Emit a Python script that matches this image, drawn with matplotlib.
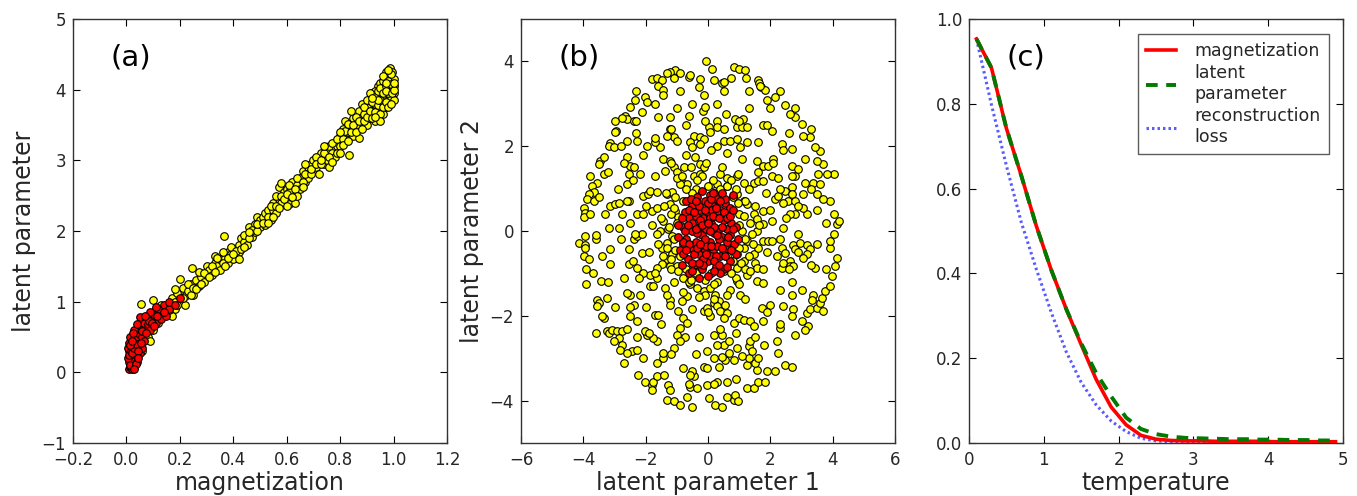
import numpy as np
import matplotlib
matplotlib.use("Agg")
import matplotlib.pyplot as plt

plt.rcParams['font.family'] = ['DejaVu Sans']

# ---------------- panel (a) data: (magnetization, latent parameter) ----------------
a_yellow_pts = [
    (0.03, 0.55), (0.05, 0.65), (0.06, 0.30), (0.07, 0.75), (0.08, 0.50), (0.09, 0.45), (0.055, 0.97),
    (0.10, 1.02), (0.10, 0.60), (0.12, 0.70), (0.13, 0.85), (0.11, 0.90), (0.02, 0.40), (0.04, 0.20),
    (0.15, 0.85), (0.16, 0.95), (0.17, 1.05), (0.18, 0.90), (0.19, 1.12), (0.20, 1.00), (0.21, 1.20),
    (0.22, 1.08), (0.23, 1.15), (0.24, 1.25), (0.245, 1.48), (0.25, 1.10), (0.26, 1.30), (0.27, 1.22),
    (0.28, 1.35), (0.29, 1.28), (0.30, 1.40), (0.30, 1.50), (0.20, 1.32), (0.22, 0.95), (0.17, 0.80),
    (0.27, 1.42), (0.31, 1.45), (0.32, 1.38), (0.33, 1.55), (0.34, 1.50), (0.35, 1.60), (0.35, 1.45),
    (0.364, 1.93), (0.37, 1.62), (0.38, 1.70), (0.38, 1.55), (0.39, 1.68), (0.40, 1.75), (0.41, 1.62),
    (0.42, 1.80), (0.42, 1.70), (0.43, 1.90), (0.44, 1.85), (0.45, 1.95), (0.45, 1.80), (0.46, 2.05),
    (0.47, 1.92), (0.48, 2.10), (0.48, 1.98), (0.49, 2.20), (0.50, 2.05), (0.50, 2.15), (0.33, 1.65),
    (0.36, 1.70), (0.40, 1.60), (0.51, 2.20), (0.52, 2.08), (0.52, 2.25), (0.53, 2.30), (0.54, 2.15),
    (0.55, 2.30), (0.55, 2.40), (0.56, 2.25), (0.57, 2.45), (0.57, 2.62), (0.58, 2.40), (0.59, 2.55),
    (0.60, 2.45), (0.60, 2.60), (0.61, 2.38), (0.62, 2.55), (0.62, 2.70), (0.63, 2.50), (0.64, 2.65),
    (0.65, 2.75), (0.65, 2.60), (0.66, 2.85), (0.67, 2.70), (0.68, 2.90), (0.68, 2.75), (0.69, 2.95),
    (0.70, 2.85), (0.70, 3.00), (0.58, 2.68), (0.63, 2.40), (0.71, 2.90), (0.72, 3.05), (0.72, 2.80),
    (0.73, 3.10), (0.74, 2.95), (0.75, 3.15), (0.75, 3.00), (0.76, 3.20), (0.77, 3.10), (0.78, 3.25),
    (0.78, 3.05), (0.79, 3.20), (0.80, 3.35), (0.80, 3.20), (0.81, 3.45), (0.82, 3.30), (0.82, 3.55),
    (0.83, 3.40), (0.834, 3.07), (0.84, 3.50), (0.85, 3.60), (0.85, 3.35), (0.86, 3.50), (0.87, 3.32),
    (0.87, 3.70), (0.88, 3.55), (0.88, 3.80), (0.89, 3.65), (0.90, 3.75), (0.90, 3.50), (0.76, 2.90),
    (0.84, 3.70), (0.91, 3.85), (0.91, 3.60), (0.92, 3.70), (0.92, 3.95), (0.93, 3.80), (0.93, 3.55),
    (0.94, 3.90), (0.94, 4.05), (0.95, 3.75), (0.95, 3.95), (0.95, 4.10), (0.96, 3.85), (0.96, 4.00),
    (0.96, 3.65), (0.97, 4.15), (0.97, 3.90), (0.97, 3.75), (0.98, 4.05), (0.98, 4.20), (0.98, 3.85),
    (0.985, 4.30), (0.99, 4.00), (0.99, 4.15), (0.99, 3.90), (0.995, 4.25), (1.00, 4.05), (1.00, 3.95),
    (1.00, 4.15), (0.94, 3.65), (0.96, 4.12), (0.93, 3.98), (0.98, 3.95), (0.97, 4.25), (0.99, 4.22),
    (1.00, 3.85),
    (0.16, 0.88), (0.18, 1.00), (0.19, 0.95), (0.21, 1.05), (0.23, 1.25), (0.24, 1.10), (0.25, 1.20),
    (0.26, 1.18), (0.28, 1.25), (0.29, 1.40), (0.31, 1.35), (0.32, 1.50), (0.33, 1.42), (0.34, 1.62),
    (0.14, 0.88), (0.13, 0.95), (0.18, 1.18), (0.36, 1.55), (0.37, 1.50), (0.39, 1.78), (0.41, 1.72),
    (0.42, 1.60), (0.43, 1.75), (0.44, 1.95), (0.46, 1.90), (0.47, 2.02), (0.49, 2.00), (0.49, 2.10),
    (0.38, 1.62), (0.40, 1.68), (0.44, 1.78), (0.46, 1.98), (0.51, 2.12), (0.53, 2.20), (0.54, 2.35),
    (0.56, 2.35), (0.56, 2.50), (0.58, 2.50), (0.59, 2.45), (0.60, 2.35), (0.61, 2.55), (0.61, 2.65),
    (0.63, 2.60), (0.64, 2.50), (0.64, 2.75), (0.66, 2.70), (0.67, 2.80), (0.67, 2.95), (0.69, 2.80),
    (0.69, 2.88), (0.53, 2.12), (0.55, 2.20), (0.57, 2.32), (0.60, 2.52), (0.62, 2.48), (0.66, 2.62),
    (0.71, 3.05), (0.71, 2.95), (0.73, 2.95), (0.73, 3.00), (0.74, 3.10), (0.74, 3.20), (0.76, 3.05),
    (0.77, 3.25), (0.77, 2.98), (0.79, 3.10), (0.79, 3.30), (0.80, 3.10), (0.81, 3.30), (0.81, 3.22),
    (0.82, 3.42), (0.83, 3.52), (0.83, 3.28), (0.84, 3.40), (0.85, 3.50), (0.86, 3.62), (0.86, 3.40),
    (0.87, 3.55), (0.88, 3.45), (0.89, 3.75), (0.89, 3.55), (0.90, 3.62), (0.90, 3.85), (0.80, 3.40),
    (0.91, 3.70), (0.91, 3.95), (0.92, 3.60), (0.92, 3.82), (0.93, 3.68), (0.93, 3.90), (0.94, 3.78),
    (0.94, 3.98), (0.95, 3.85), (0.95, 4.02), (0.95, 3.65), (0.96, 3.75), (0.96, 3.95), (0.96, 4.20),
    (0.97, 3.82), (0.97, 4.05), (0.97, 3.98), (0.98, 3.75), (0.98, 4.12), (0.98, 4.28), (0.99, 3.80),
    (0.99, 4.08), (0.995, 3.95), (1.00, 4.00), (1.00, 4.10), (0.94, 3.85), (0.95, 3.55), (0.93, 3.62),
    (0.92, 3.88), (0.97, 4.10),
]
a_red_pts = [
    (0.010, 0.05), (0.015, 0.08), (0.020, 0.10), (0.010, 0.15), (0.020, 0.20), (0.015, 0.25),
    (0.025, 0.12), (0.030, 0.18), (0.005, 0.20), (0.010, 0.30), (0.020, 0.35), (0.030, 0.30),
    (0.025, 0.40), (0.005, 0.35), (0.010, 0.42), (0.035, 0.25), (0.040, 0.35), (0.030, 0.45),
    (0.040, 0.50), (0.020, 0.05), (0.030, 0.08), (0.040, 0.15), (0.015, 0.50), (0.050, 0.40),
    (0.045, 0.55), (0.050, 0.28), (0.055, 0.60), (0.060, 0.50), (0.065, 0.45), (0.070, 0.62),
    (0.065, 0.70), (0.050, 0.78), (0.080, 0.68), (0.090, 0.60), (0.100, 0.75), (0.100, 0.82),
    (0.110, 0.70), (0.120, 0.80), (0.130, 0.75), (0.140, 0.95), (0.150, 0.80), (0.120, 0.90),
    (0.090, 0.85), (0.030, 0.60), (0.040, 0.68), (0.060, 0.35), (0.025, 0.55), (0.200, 1.05),
    (0.160, 0.90),
    (0.012, 0.10), (0.008, 0.25), (0.018, 0.30), (0.022, 0.27), (0.028, 0.35), (0.035, 0.40),
    (0.012, 0.38), (0.020, 0.45), (0.035, 0.12), (0.045, 0.30), (0.055, 0.42), (0.060, 0.58),
    (0.075, 0.55), (0.085, 0.72), (0.095, 0.70), (0.105, 0.65), (0.115, 0.80), (0.070, 0.80),
    (0.045, 0.20), (0.028, 0.05), (0.140, 0.85), (0.160, 1.00), (0.180, 0.95), (0.110, 0.92),
]

# ---------------- panel (b) data: (latent parameter 1, latent parameter 2) ----------------
b_yellow_pts = [
    (-0.08, 4.00), (0.12, 3.83), (0.85, 3.87), (1.01, 3.81), (0.74, 3.60), (1.23, 3.61), (1.59, 3.57),
    (1.63, 3.49), (1.70, 3.39), (1.83, 3.33), (0.46, 3.50), (0.52, 3.52), (0.18, 3.55), (-0.27, 3.59),
    (-0.62, 3.63), (-0.57, 3.67), (-1.06, 3.79), (-1.21, 3.75), (-1.32, 3.72), (-0.89, 3.72),
    (-1.80, 3.59), (-1.64, 3.61), (-1.48, 3.55), (-1.59, 3.43), (-1.45, 3.33), (-1.43, 3.20),
    (-2.01, 3.16), (-1.96, 3.04), (-2.33, 3.09), (-2.49, 2.93), (-2.65, 2.72), (-2.60, 2.64),
    (-2.76, 2.67), (-2.39, 2.60), (-2.12, 2.80), (-2.94, 2.37), (-2.97, 2.33), (-3.16, 2.07),
    (-3.19, 2.01), (-3.03, 1.99), (-3.46, 1.66), (-3.51, 1.58), (-3.35, 1.74), (-3.33, 1.34),
    (-3.56, 1.14), (-3.72, 1.07), (-3.67, 0.91), (-3.83, 0.87), (-3.88, 0.75), (-3.67, 0.71),
    (-3.99, 0.55), (-3.94, 0.43), (-3.99, 0.32), (-3.78, 0.39), (-4.15, -0.28), (-3.94, -0.12),
    (-3.94, -0.32), (-3.99, -0.59), (-3.83, -0.67), (-3.94, -0.39), (-3.59, -0.20), (-3.93, -1.26),
    (-3.43, -1.17), (-3.56, -1.62), (-3.51, -1.70), (-3.56, -1.78), (-3.35, -2.05), (-3.24, -1.58),
    (-3.24, -2.37), (-3.19, -2.41), (-3.08, -2.33), (-2.92, -2.37), (-2.76, -2.37), (-2.87, -2.52),
    (-3.01, -2.60), (-2.76, -2.68), (-2.82, -2.80), (-2.71, -3.12), (-2.44, -2.84), (-2.60, -2.88),
    (-2.28, -2.80), (-2.23, -3.39), (-2.01, -3.55), (-1.80, -3.63), (-1.80, -3.75), (-1.75, -3.55),
    (-1.64, -3.43), (-1.64, -3.12), (-1.27, -3.63), (-1.21, -3.75), (-1.32, -3.98), (-1.08, -4.02),
    (-0.89, -4.10), (-0.50, -4.16), (-0.68, -3.91), (-0.57, -3.67), (-0.36, -3.71), (-0.04, -3.63),
    (0.02, -3.93), (0.23, -4.10), (0.44, -4.16), (0.60, -3.91), (0.82, -3.98), (0.87, -3.87),
    (0.96, -4.02), (0.28, -3.55), (0.60, -3.55), (0.34, -3.20), (0.55, -3.04), (0.44, -2.96),
    (1.24, -3.71), (1.46, -3.71), (1.62, -3.55), (1.83, -3.55), (1.57, -3.27), (1.89, -3.31),
    (2.15, -3.30), (2.47, -3.16), (2.69, -3.20), (2.26, -2.88), (1.51, -3.12), (1.24, -3.16),
    (1.30, -3.00), (2.79, -2.45), (3.01, -2.13), (3.17, -1.93), (3.27, -1.85), (3.49, -1.81),
    (3.60, -1.70), (3.65, -1.58), (3.76, -1.42), (3.92, -1.30), (3.38, -1.50), (3.33, -1.62),
    (3.70, -1.89), (3.22, -2.25), (3.11, -2.33), (2.42, -1.78), (2.74, -1.85), (2.31, -2.29),
    (2.69, -1.50), (3.97, -1.07), (4.08, -0.83), (4.14, -0.63), (3.92, -0.39), (4.03, -0.08),
    (4.14, 0.16), (4.19, 0.24), (3.92, -0.24), (4.03, 0.39), (3.92, 0.71), (3.70, 0.75),
    (3.49, 0.87), (4.03, 1.34), (3.81, 1.34), (3.70, 1.58), (3.49, 1.66), (3.60, 1.89), (3.43, 1.97),
    (3.27, 2.21), (3.06, 2.25), (3.01, 2.52), (2.79, 2.68), (2.63, 2.76), (2.47, 2.96), (2.15, 3.16),
    (1.89, 3.08), (1.67, 3.43), (-1.21, 2.68), (-0.62, 2.72), (-0.12, 3.20), (-0.17, 2.84),
    (-0.09, 2.93), (0.28, 2.60), (0.58, 2.76), (0.87, 2.64), (1.12, 2.64), (0.92, 2.45), (1.09, 2.46),
    (1.24, 2.45), (0.02, 2.45), (0.07, 2.33), (0.28, 2.45), (-0.46, 2.25), (-0.25, 2.21), (-0.14, 2.17),
    (-0.57, 2.09), (-0.52, 1.97), (-0.25, 2.05), (-1.21, 2.41), (-1.10, 2.21), (-1.00, 2.13),
    (-1.32, 2.25), (-1.53, 1.97), (-1.69, 2.09), (-1.96, 2.01), (-2.28, 2.13), (-2.60, 2.13),
    (0.28, 2.01), (0.50, 2.13), (0.71, 2.13), (0.92, 2.17), (1.03, 1.97), (1.24, 2.09), (1.78, 2.49),
    (2.05, 2.37), (2.37, 2.05), (2.69, 1.93), (1.57, 1.66), (1.78, 1.54), (1.94, 1.54), (2.10, 1.70),
    (2.69, 1.54), (-2.60, 1.74), (-2.49, 1.54), (-2.39, 1.50), (-2.17, 1.34), (-2.55, 1.34),
    (-2.60, 1.10), (-1.43, 1.70), (-1.21, 1.66), (-1.10, 1.50), (-1.37, 1.42), (-0.99, 1.38),
    (-0.78, 1.50), (-0.84, 1.14), (-0.68, 1.10), (-0.46, 1.30), (-0.25, 1.34), (-0.41, 1.74),
    (-0.25, 1.58), (-0.14, 1.50), (0.12, 1.10), (0.28, 1.10), (0.39, 1.34), (0.60, 1.06), (0.92, 1.30),
    (1.14, 1.14), (1.46, 1.14), (1.62, 1.18), (1.78, 1.18), (2.05, 1.30), (2.26, 1.26), (2.47, 0.95),
    (2.69, 1.03), (2.79, 1.30), (2.90, 1.46), (3.11, 1.14), (3.38, 1.14), (3.54, 1.34), (2.58, 0.71),
    (2.42, 0.67), (3.06, 0.87), (-3.14, 0.59), (-2.97, 0.63), (-2.87, 0.67), (-2.55, 0.71),
    (-2.76, 0.39), (-3.19, 0.08), (-2.87, 0.08), (-3.14, -0.43), (-3.14, -0.79), (-2.39, -0.20),
    (-2.28, -0.12), (-2.12, -0.08), (-2.12, -0.51), (-2.55, -0.43), (-2.33, -0.08), (-2.28, 0.39),
    (-2.07, 0.39), (-1.80, 0.47), (-1.64, 0.55), (-2.07, 0.83), (-1.91, 0.87), (-1.85, 0.95),
    (-1.64, 0.91), (-1.32, 0.87), (-1.16, 0.91), (-1.21, 0.63), (-1.05, 0.47), (-0.95, 0.32),
    (-1.43, 0.24), (-1.53, 0.00), (-1.64, -0.08), (-1.27, 0.04), (-1.16, -0.12), (-1.32, -0.28),
    (-1.48, -0.39), (-1.16, -0.55), (-1.32, -0.67), (-1.48, -0.79), (-1.64, -0.87), (-1.85, -1.03),
    (-1.64, -1.10), (-2.07, -0.99), (-2.28, -0.87), (-2.55, -0.79), (-1.21, -0.83), (-1.00, -0.83),
    (0.92, 0.87), (1.14, 0.71), (1.24, 0.63), (1.46, 0.39), (1.57, 0.28), (1.78, 0.16), (1.57, 0.00),
    (1.40, -0.08), (1.24, -0.24), (1.14, -0.39), (1.46, -0.55), (1.51, -0.75), (1.57, -0.87),
    (1.14, -0.71), (0.92, -0.55), (0.92, -0.87), (1.24, -1.03), (1.78, -0.24), (1.94, -0.24),
    (2.05, -0.24), (2.31, -0.20), (2.37, -0.39), (2.47, -0.51), (2.74, -0.32), (2.79, -0.43),
    (2.63, -0.71), (2.90, -0.08), (2.95, -0.28), (3.17, -0.32), (3.27, -0.43), (3.17, -0.55),
    (3.06, -0.63), (2.37, -0.87), (2.42, -0.75), (2.63, -0.83), (2.74, -0.83), (3.43, -0.87),
    (3.17, 0.39), (3.06, 0.55), (2.79, 0.39), (2.63, 0.39), (2.42, 0.08), (2.69, 0.87), (2.79, 0.71),
    (2.15, 0.75), (2.26, 0.83), (2.05, 0.24), (1.78, 0.47), (-0.79, -1.10), (-0.57, -1.26),
    (-0.36, -1.34), (-0.14, -1.42), (-0.09, -1.50), (0.07, -1.34), (0.23, -1.50), (0.34, -1.66),
    (0.18, -1.70), (0.28, -1.78), (0.39, -1.89), (0.60, -1.93), (0.50, -2.05), (0.82, -2.17),
    (0.98, -2.05), (1.14, -2.09), (1.35, -2.13), (1.46, -2.25), (1.78, -2.13), (1.73, -1.81),
    (1.99, -1.74), (1.57, -1.18), (1.78, -1.22), (0.92, -1.18), (0.71, -1.38), (1.03, -1.50),
    (-0.68, -1.54), (-0.84, -1.66), (-0.95, -1.89), (-0.79, -2.05), (-0.68, -2.17), (-0.89, -2.29),
    (-1.00, -2.45), (-0.73, -2.49), (-1.10, -2.76), (-1.43, -3.00), (-1.43, -2.88), (-1.64, -2.60),
    (-1.75, -2.52), (-1.96, -2.45), (-2.01, -2.37), (-2.28, -2.49), (-2.28, -2.13), (-2.49, -2.01),
    (-2.39, -1.74), (-2.17, -1.50), (-2.49, -1.50), (-2.60, -1.46), (-1.85, -1.30), (-1.75, -1.30),
    (-1.69, -1.97), (-1.59, -1.97), (-1.21, -1.62), (-1.21, -1.74), (-1.37, -1.34), (-0.14, -1.89),
    (-0.04, -1.81), (0.07, -2.01), (0.18, -2.45), (0.44, -2.45), (0.50, -2.68), (0.66, -2.60),
    (0.66, -2.88), (0.92, -2.76), (0.82, -3.04), (1.30, -2.72), (1.35, -2.60), (1.40, -2.84),
    (-0.04, -2.84), (-0.14, -3.20), (-0.04, -3.23), (-0.46, -3.43), (-0.52, -3.31), (-0.79, -3.23),
    (-0.57, -3.39), (0.18, -3.00), (-1.00, 0.20), (-1.10, -0.20), (-0.90, -0.60), (-0.70, -0.90),
    (-0.40, -1.00), (0.10, -1.00), (0.50, -0.95), (0.80, -0.70), (1.00, -0.40), (1.10, 0.00),
    (1.00, 0.40), (0.80, 0.80), (0.40, 1.00), (0.00, 1.05), (-0.40, 1.00), (-0.80, 0.70),
    (-1.20, 0.40), (-1.30, -0.40), (-1.20, -0.90), (-0.60, -1.20), (0.30, -1.20), (0.90, -1.10),
    (1.30, -0.60), (1.35, 0.20), (1.20, 0.70), (0.60, 1.25), (-0.20, 1.30), (-0.90, 1.10),
    (-0.50, 0.90), (0.90, 1.00), (-1.40, 0.60), (0.20, 0.90), (-0.30, -0.80), (0.60, -0.60),
    (-0.80, -0.30), (1.20, -0.90), (-0.10, -1.15), (1.00, 0.15),
    (-1.50, 0.30), (-1.60, -0.30), (-1.45, -0.60), (-1.10, -1.20), (-0.80, -1.45), (-0.30, -1.55),
    (0.20, -1.60), (0.60, -1.50), (1.00, -1.25), (1.35, -0.95), (1.60, -0.40), (1.65, 0.15),
    (1.50, 0.60), (1.30, 1.00), (0.95, 1.35), (0.45, 1.50), (-0.05, 1.60), (-0.55, 1.50),
    (-1.00, 1.25), (-1.35, 0.90), (-1.80, 0.15), (-1.90, -0.50), (-1.70, -1.00), (-1.30, -1.50),
    (-0.50, -1.85), (0.00, -1.90), (0.55, -1.75), (1.20, -1.60), (1.75, -0.90), (1.90, -0.50),
    (2.00, 0.50), (1.85, 0.90), (1.60, 1.40), (1.10, 1.70), (0.60, 1.85), (0.10, 1.90),
    (-0.70, 1.80), (-1.20, 1.60), (-1.70, 1.30), (-2.00, 0.60), (-1.10, 0.55), (-1.05, -0.45),
    (-0.95, -0.95), (-0.55, -1.15), (0.20, -1.25), (0.75, -1.00), (1.05, -0.75), (1.20, -0.20),
    (1.15, 0.35), (0.95, 0.65), (0.60, 1.05), (0.15, 1.20), (-0.35, 1.20), (-0.70, 1.00),
    (-1.05, 0.80), (-1.25, 0.10), (-1.20, -0.65), (-0.85, 1.30), (0.75, 1.20), (1.45, -0.30),
    (-2.50, 0.20), (-2.40, -0.70), (-2.20, -1.10), (-2.00, -1.80), (-1.50, -2.20), (-0.90, -2.60),
    (-0.30, -2.50), (0.30, -2.70), (0.90, -2.40), (1.50, -2.50), (1.90, -1.90), (2.30, -1.40),
    (2.60, -0.90), (2.20, -0.60), (2.50, 0.30), (2.30, 1.00), (2.10, 1.60), (1.60, 2.10),
    (1.00, 2.60), (0.50, 2.40), (-0.10, 2.60), (-0.70, 2.50), (-1.20, 2.40), (-1.70, 2.20),
    (-2.10, 1.80), (-2.40, 1.20), (-2.60, 0.70), (-2.80, -0.20), (-2.70, -1.10), (-2.50, -1.80),
    (-1.90, -2.40), (-1.20, -2.90), (-0.40, -2.90), (0.40, -2.30), (1.10, -2.95), (1.80, -2.70),
    (2.30, -2.20), (2.70, -1.20), (2.90, -0.50), (2.90, 0.60), (2.70, 1.30), (2.40, 1.90),
    (1.90, 2.50), (1.30, 2.90), (0.30, 3.00), (-0.50, 3.00), (-1.00, 2.90), (-1.60, 2.70),
    (-2.30, 2.30), (-2.70, 1.60), (-2.90, 1.00), (-3.30, 0.40), (-3.40, -0.60), (-3.20, -1.20),
    (-3.00, -1.80), (-2.60, -2.30), (-2.10, -3.00), (-1.40, -3.40), (-0.60, -3.60), (0.20, -3.60),
    (0.90, -3.50), (1.60, -3.00), (2.20, -2.60), (2.70, -2.00), (3.00, -1.40), (3.30, -0.80),
    (3.50, -0.30), (3.50, 0.50), (3.30, 1.00), (3.10, 1.70), (2.60, 2.30), (2.00, 2.90),
    (1.30, 3.30), (0.50, 3.30), (-0.30, 3.40), (-0.90, 3.30), (-1.70, 3.00), (-2.30, 2.60),
    (-2.80, 2.00), (-3.20, 1.40), (-3.50, 0.80), (-3.60, -0.10), (-3.70, -1.00), (-3.40, -2.00),
    (3.80, -0.90), (3.80, 0.20), (3.60, 1.10), (3.30, 2.40), (2.80, 2.90), (2.30, 3.30),
    (1.20, 3.80), (-2.30, 3.30), (-1.10, 3.60), (-3.00, 2.60), (-3.80, 1.30), (-3.90, -0.90),
    (-3.60, -2.40),
]
b_red_pts = [
    (-0.90, -0.45), (-0.80, 0.10), (-0.75, 0.45), (-0.70, -0.20), (-0.65, -0.65), (-0.60, 0.30),
    (-0.55, -0.40), (-0.50, 0.60), (-0.50, 0.00), (-0.45, -0.80), (-0.40, 0.35), (-0.40, -0.25),
    (-0.35, 0.80), (-0.30, -0.55), (-0.30, 0.10), (-0.25, 0.50), (-0.20, -0.90), (-0.20, -0.10),
    (-0.15, 0.30), (-0.10, 0.70), (-0.10, -0.45), (-0.05, 0.05), (0.00, -0.70), (0.00, 0.45),
    (0.05, 0.85), (0.05, -0.25), (0.10, 0.20), (0.15, -0.50), (0.15, 0.60), (0.20, -0.05),
    (0.25, -0.85), (0.25, 0.35), (0.30, 0.75), (0.30, -0.35), (0.35, 0.05), (0.40, -0.60),
    (0.40, 0.50), (0.45, -0.15), (0.50, 0.25), (0.50, -0.90), (0.55, 0.65), (0.60, -0.40),
    (0.60, 0.05), (0.65, 0.40), (0.70, -0.70), (0.70, -0.10), (0.75, 0.20), (0.80, 0.85),
    (0.85, -0.30), (0.90, 0.10), (-0.60, -1.00), (-0.30, -1.10), (0.00, -1.05), (0.40, -1.00),
    (-0.85, -0.80), (0.90, -0.55), (-0.95, 0.15), (-0.20, 0.95), (0.55, 0.75), (-0.70, 0.70),
    (-0.05, -0.35), (0.12, 0.50), (-0.35, -0.05), (0.35, -0.20), (-0.15, -0.65), (0.20, 0.10),
    (-0.50, 0.20), (0.60, -0.25), (-0.25, 0.25), (0.05, 0.30), (0.45, 0.10), (-0.10, -0.20),
    (0.30, 0.45), (-0.45, -0.55), (0.10, -0.60), (-0.60, 0.50), (0.70, 0.55), (-0.80, -0.25),
    (0.25, -0.60), (0.00, 0.65),
    (-0.85, 0.30), (-0.80, -0.55), (-0.75, 0.00), (-0.65, 0.15), (-0.60, -0.30), (-0.55, 0.75),
    (-0.50, -0.75), (-0.45, 0.45), (-0.40, 0.05), (-0.35, -0.40), (-0.30, 0.60), (-0.25, -0.30),
    (-0.20, 0.15), (-0.15, -0.80), (-0.10, 0.50), (-0.05, -0.55), (0.00, 0.20), (0.05, 0.00),
    (0.10, -0.35), (0.10, 0.75), (0.15, 0.35), (0.20, -0.70), (0.25, 0.55), (0.30, -0.10),
    (0.35, 0.30), (0.35, -0.80), (0.40, 0.70), (0.45, -0.40), (0.50, 0.45), (0.55, -0.60),
    (0.60, 0.30), (0.65, -0.15), (0.70, 0.35), (0.75, -0.45), (0.80, 0.05), (0.80, 0.50),
    (-0.70, -0.45), (-0.30, -0.75), (0.15, 0.90), (-0.40, 0.70), (0.60, -0.85), (-0.95, -0.15),
    (0.95, -0.20), (0.20, -0.95), (-0.50, -0.95), (0.45, 0.90),
]

# ---------------- panel (c) data ----------------
temperature = [0.1, 0.3, 0.5, 0.7, 0.9, 1.1, 1.3, 1.5, 1.7, 1.9, 2.1, 2.3, 2.5,
               2.7, 2.9, 3.1, 3.3, 3.5, 3.7, 3.9, 4.1, 4.3, 4.5, 4.7, 4.9]
magnetization = [0.953, 0.885, 0.742, 0.630, 0.512, 0.408, 0.316, 0.232, 0.150, 0.085, 0.043,
                 0.018, 0.009, 0.006, 0.005, 0.005, 0.004, 0.004, 0.004, 0.004, 0.003, 0.003,
                 0.003, 0.003, 0.003]
latent_parameter = [0.953, 0.885, 0.742, 0.630, 0.512, 0.408, 0.316, 0.235, 0.165, 0.110, 0.060,
                    0.033, 0.021, 0.015, 0.012, 0.011, 0.010, 0.009, 0.009, 0.008, 0.008, 0.007,
                    0.007, 0.006, 0.006]
reconstruction_loss = [0.953, 0.798, 0.654, 0.520, 0.410, 0.308, 0.215, 0.143, 0.090, 0.052,
                       0.027, 0.011, 0.005, 0.003, 0.002, 0.002, 0.002, 0.002, 0.002, 0.002,
                       0.002, 0.002, 0.002, 0.002, 0.002]

ay = np.array(a_yellow_pts); ar = np.array(a_red_pts)
by = np.array(b_yellow_pts); br = np.array(b_red_pts)

W, H = 1357, 496
fig = plt.figure(figsize=(W / 100, H / 100), dpi=100)

def axpos(left_px, right_px, top_px, bottom_px):
    return [left_px / W, 1 - bottom_px / H, (right_px - left_px) / W, (bottom_px - top_px) / H]

ax_a = fig.add_axes(axpos(73, 447, 19, 443))
ax_b = fig.add_axes(axpos(521, 895, 19, 443))
ax_c = fig.add_axes(axpos(969, 1343, 19, 443))

TXT = '#262626'
tick_fs = 12
label_fs = 17
panel_fs = 21
msize = 30
mlw = 0.8

def style(ax):
    ax.tick_params(direction='in', top=True, right=True, length=5, width=0.8,
                   labelsize=tick_fs, labelcolor=TXT)
    ax.tick_params(axis='x', pad=6)
    ax.tick_params(axis='y', pad=5)
    for s in ax.spines.values():
        s.set_linewidth(1.0)
        s.set_color('#333333')

# panel (a)
ax_a.scatter(ay[:, 0], ay[:, 1], s=msize, c='yellow', edgecolors='black', linewidths=mlw, zorder=2)
ax_a.scatter(ar[:, 0], ar[:, 1], s=msize, c='red', edgecolors='black', linewidths=mlw, zorder=3)
ax_a.set_xlim(-0.2, 1.2)
ax_a.set_ylim(-1, 5)
ax_a.set_xticks(np.arange(-0.2, 1.21, 0.2))
ax_a.set_yticks(np.arange(-1, 5.1, 1))
ax_a.set_xlabel('magnetization', fontsize=label_fs, color=TXT, labelpad=1)
ax_a.set_ylabel('latent parameter', fontsize=label_fs, color=TXT, labelpad=4)
style(ax_a)
ax_a.text(0.1, 0.91, '(a)', transform=ax_a.transAxes, fontsize=panel_fs, va='center', ha='left')

# panel (b)
ax_b.scatter(by[:, 0], by[:, 1], s=msize, c='yellow', edgecolors='black', linewidths=mlw, zorder=2)
ax_b.scatter(br[:, 0], br[:, 1], s=msize, c='red', edgecolors='black', linewidths=mlw, zorder=3)
ax_b.set_xlim(-6, 6)
ax_b.set_ylim(-5, 5)
ax_b.set_xticks(np.arange(-6, 6.1, 2))
ax_b.set_yticks(np.arange(-4, 4.1, 2))
ax_b.set_xlabel('latent parameter 1', fontsize=label_fs, color=TXT, labelpad=1)
ax_b.set_ylabel('latent parameter 2', fontsize=label_fs, color=TXT, labelpad=4)
style(ax_b)
ax_b.text(0.1, 0.91, '(b)', transform=ax_b.transAxes, fontsize=panel_fs, va='center', ha='left')

# panel (c)
ax_c.plot(temperature, magnetization, color='red', lw=2.6, ls='-', label='magnetization', zorder=3)
ax_c.plot(temperature, latent_parameter, color='#007a00', lw=2.8, ls=(0, (3, 2.2)),
          label='latent\nparameter', zorder=4)
ax_c.plot(temperature, reconstruction_loss, color='#5a5aff', lw=2.2, ls=(0, (0.8, 1.0)),
          label='reconstruction\nloss', zorder=2)
ax_c.set_xlim(0, 5)
ax_c.set_ylim(0, 1)
ax_c.set_xticks(np.arange(0, 5.1, 1))
ax_c.set_yticks(np.arange(0, 1.01, 0.2))
ax_c.set_xlabel('temperature', fontsize=label_fs, color=TXT, labelpad=1)
style(ax_c)
ax_c.text(0.1, 0.91, '(c)', transform=ax_c.transAxes, fontsize=panel_fs, va='center', ha='left')
leg = ax_c.legend(loc='upper right', fontsize=12.5, frameon=True, fancybox=False,
                  edgecolor='#333333', handlelength=1.7, handletextpad=1.1, borderpad=0.45,
                  labelspacing=0.25, bbox_to_anchor=(0.985, 0.985))
leg.get_frame().set_linewidth(1.0)
for t in leg.get_texts():
    t.set_color(TXT)

fig.savefig('out.png', dpi=100)
